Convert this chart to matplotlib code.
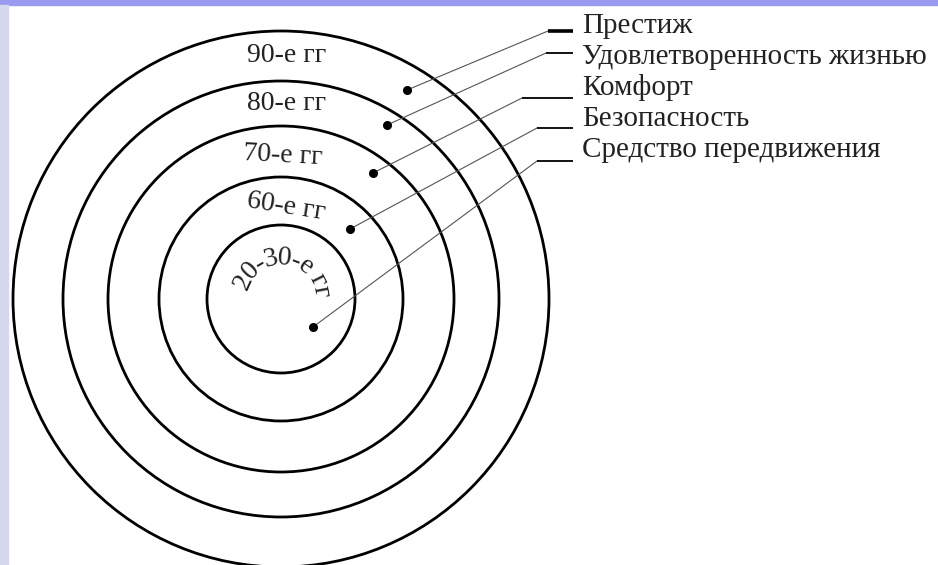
import numpy as np
import matplotlib
matplotlib.use("Agg")
import matplotlib.pyplot as plt
from matplotlib.patches import Circle, Rectangle

# --- content -------------------------------------------------------------
decades = ["90-е гг", "80-е гг", "70-е гг", "60-е гг", "20-30-е гг"]
factors = ["Престиж", "Удовлетворенность жизнью", "Комфорт",
           "Безопасность", "Средство передвижения"]

# --- layout (pixels, y grows downward) -----------------------------------
W, H = 938, 565
cx, cy = 281, 299
radii = [268, 218, 173, 122, 74]
ring_label_pos = [(287, 56, 0), (287, 103, 0), (283, 156, -3), (286, 207, -9)]
dots = [(407, 90), (387, 125), (373, 173), (350, 229), (313, 327)]
elbows = [(548, 31), (546, 53), (522, 98), (537, 128), (537, 161)]
leader_end = 573
text_x = 582
text_base = [33, 64, 95, 126, 157]

FONT = "Liberation Serif"
FS = 21
FS_RING = 20

fig = plt.figure(figsize=(W / 100, H / 100), dpi=100)
ax = fig.add_axes([0, 0, 1, 1])
ax.set_xlim(0, W)
ax.set_ylim(H, 0)
ax.axis("off")

# frame decorations of the original slide
ax.add_patch(Rectangle((0, 0), W, 5, color="#9a9af0", zorder=1))
ax.add_patch(Rectangle((0, 5), 8, H, color="#d6d8f0", zorder=1))

for r in radii:
    ax.add_patch(Circle((cx, cy), r, fill=False, lw=2.0, ec="black", zorder=3))

for (x, y, rot), lab in zip(ring_label_pos, decades[:4]):
    ax.text(x, y, lab, family=FONT, fontsize=FS_RING, ha="center", va="center",
            rotation=rot, rotation_mode="anchor", color="#222222", zorder=4)

# inner label bent along the innermost circle
renderer = fig.canvas.get_renderer()


def text_w(s):
    t = ax.text(0, 0, s, family=FONT, fontsize=FS_RING)
    w = t.get_window_extent(renderer).width
    t.remove()
    return w


inner = decades[4]
total = text_w(inner)
R_txt = 41
theta0 = np.deg2rad(84)
for i, ch in enumerate(inner):
    if ch == " ":
        continue
    c = text_w(inner[:i + 1]) - text_w(ch) / 2
    a = theta0 + (total / 2 - c) / R_txt
    ax.text(cx + R_txt * np.cos(a), cy - R_txt * np.sin(a), ch, family=FONT,
            fontsize=FS_RING, ha="center", va="center", color="#222222",
            rotation=np.rad2deg(a) - 90, rotation_mode="anchor", zorder=4)

# leaders
for k, ((dx, dy), (ex, ey), lab, yb) in enumerate(zip(dots, elbows, factors, text_base)):
    ax.plot([dx, ex], [dy, ey], color="#555555", lw=0.8, zorder=5)
    ax.plot([ex, leader_end], [ey, ey], color="black",
            lw=2.6 if k == 0 else 1.3, solid_capstyle="butt", zorder=5)
    ax.plot([dx], [dy], "o", color="black", ms=5.5, zorder=6)
    ax.text(text_x, yb, lab, family=FONT, fontsize=FS, ha="left",
            va="baseline", color="#222222", zorder=6)

fig.savefig("out.png", dpi=100)
